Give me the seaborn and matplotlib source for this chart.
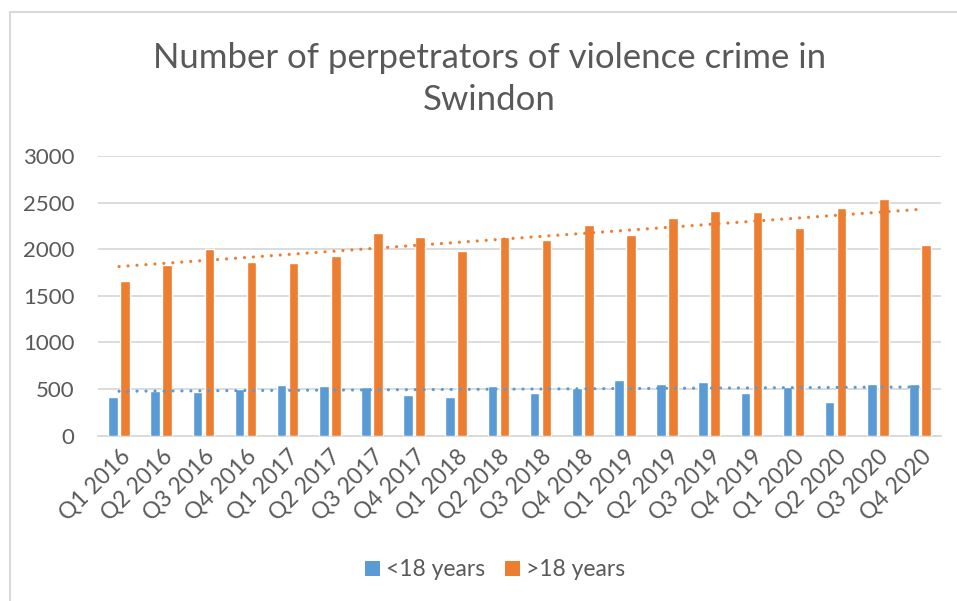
import numpy as np
import pandas as pd
import matplotlib
matplotlib.use("Agg")
import matplotlib.pyplot as plt
from matplotlib.patches import Patch
from matplotlib.lines import Line2D
import seaborn as sns

# Quarterly counts of violence crime perpetrators, by age group
quarters = ["Q1 2016", "Q2 2016", "Q3 2016", "Q4 2016",
            "Q1 2017", "Q2 2017", "Q3 2017", "Q4 2017",
            "Q1 2018", "Q2 2018", "Q3 2018", "Q4 2018",
            "Q1 2019", "Q2 2019", "Q3 2019", "Q4 2019",
            "Q1 2020", "Q2 2020", "Q3 2020", "Q4 2020"]
under_18 = [412, 480, 472, 501, 537, 530, 523, 440, 408, 526,
            458, 508, 594, 558, 569, 458, 523, 358, 558, 548]
over_18 = [1653, 1833, 2001, 1861, 1850, 1929, 2173, 2126, 1979, 2126,
           2097, 2258, 2147, 2330, 2405, 2398, 2226, 2441, 2538, 2040]
groups = ["<18 years", ">18 years"]
y_ticks = [0, 500, 1000, 1500, 2000, 2500, 3000]

BLUE = "#5B9BD5"
ORANGE = "#ED7D31"
TEXT = "#595959"
GRID = "#D9D9D9"

sns.set_theme(style="white")
plt.rcParams["font.family"] = ["Lato", "DejaVu Sans"]

df = pd.DataFrame({
    "quarter": quarters * 2,
    "group": [groups[0]] * len(quarters) + [groups[1]] * len(quarters),
    "value": under_18 + over_18,
})

fig = plt.figure(figsize=(9.57, 6.01), dpi=100)
ax = fig.add_axes([98 / 957, 1 - 435.5 / 601, (941 - 98) / 957, (435.5 - 156) / 601])

sns.barplot(data=df, x="quarter", y="value", hue="group",
            palette=[BLUE, ORANGE], saturation=1, width=0.57, gap=0.2,
            errorbar=None, legend=False, ax=ax, zorder=3)

# Linear trend for each series, dotted, spanning the first to last quarter
idx = np.arange(len(quarters))
for series, color in ((under_18, BLUE), (over_18, ORANGE)):
    slope, intercept = np.polyfit(idx, series, 1)
    ax.plot(idx, slope * idx + intercept, color=color, linewidth=2.3,
            linestyle=(0, (0.01, 2.8)), dash_capstyle="round", zorder=4)

ax.set_xlim(-0.5, len(quarters) - 0.5)
ax.set_ylim(0, 3000)
ax.set_yticks(y_ticks)
ax.set_yticklabels([str(t) for t in y_ticks])
ax.yaxis.grid(True, color=GRID, linewidth=1.3, zorder=0)
ax.set_axisbelow(True)
for side in ("top", "right", "left"):
    ax.spines[side].set_visible(False)
ax.spines["bottom"].set_color(GRID)
ax.spines["bottom"].set_linewidth(1.3)
ax.tick_params(axis="both", length=0, colors=TEXT, labelsize=16)
ax.tick_params(axis="y", pad=17)
ax.tick_params(axis="x", labelsize=16.5, pad=7)
plt.setp(ax.get_xticklabels(), rotation=45, ha="right", rotation_mode="anchor")
ax.set_xlabel("")
ax.set_ylabel("")

fig.text(0.5115, 1 - 79 / 601, "Number of perpetrators of violence crime in\nSwindon",
         ha="center", va="center", fontsize=25, color=TEXT, linespacing=1.4)

handles = [Patch(facecolor=BLUE, edgecolor="none"),
           Patch(facecolor=ORANGE, edgecolor="none")]
fig.legend(handles, groups, loc="center", bbox_to_anchor=(495 / 957, 1 - 570 / 601),
           ncol=2, frameon=False, fontsize=16.5, labelcolor=TEXT,
           handlelength=0.65, handleheight=0.65, handletextpad=0.25,
           columnspacing=0.9)

# Chart frame (left and top edges)
fig.add_artist(Line2D([10 / 957, 10 / 957], [0, 1 - 11.5 / 601],
                      transform=fig.transFigure, color=GRID, linewidth=1.5))
fig.add_artist(Line2D([10 / 957, 1], [1 - 11.5 / 601, 1 - 11.5 / 601],
                      transform=fig.transFigure, color=GRID, linewidth=1.5))

fig.savefig("out.png", dpi=100, facecolor="white")
